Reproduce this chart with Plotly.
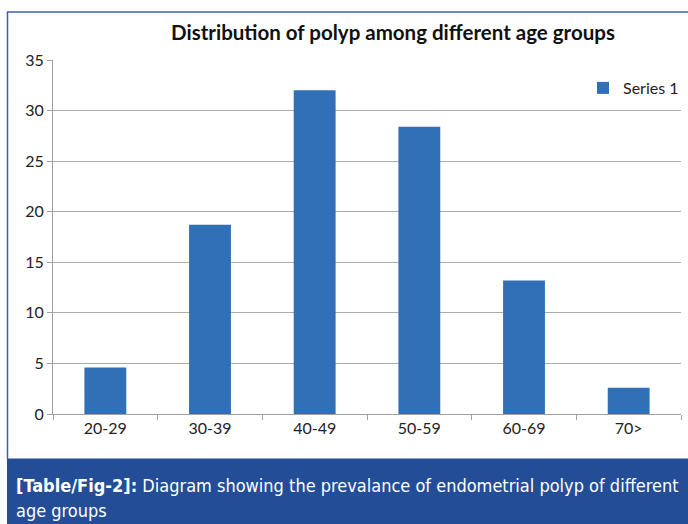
import plotly.graph_objects as go

categories = ["20-29", "30-39", "40-49", "50-59", "60-69", "70>"]
values = [4.6, 18.7, 32.0, 28.4, 13.2, 2.6]
series_name = "Series 1"
y_ticks = [0, 5, 10, 15, 20, 25, 30, 35]
title_text = "Distribution of polyp among different age groups"
caption_line1 = "<b>[Table/Fig-2]:</b> Diagram showing the prevalance of endometrial polyp of different"
caption_line2 = "age groups"

W, H = 688, 524
L, R, T, B = 53, 7, 60, 110
pw = W - L - R
ph = H - T - B

def px(x):
    return (x - L) / pw

def py(y):
    return (H - B - y) / ph

fig = go.Figure()
fig.add_trace(go.Bar(
    x=categories, y=values, name=series_name,
    marker=dict(color="#3170b6", line=dict(width=0)),
    showlegend=True,
))

fig.update_layout(
    width=W, height=H,
    margin=dict(l=L, r=R, t=T, b=B, autoexpand=False),
    paper_bgcolor="white", plot_bgcolor="white",
    bargap=0.6,
    font=dict(family="Lato, Open Sans, sans-serif", size=16, color="#222"),
    title=dict(text="<b>" + title_text + "</b>", x=px(393), xanchor="center",
               y=1 - 33 / H, yanchor="middle", yref="container", xref="paper",
               font=dict(family="Lato, Open Sans, sans-serif", size=20.5, color="#111")),
    showlegend=True,
    legend=dict(x=px(583), y=py(88), xanchor="left", yanchor="middle",
                font=dict(size=16, color="#222"), bgcolor="rgba(0,0,0,0)",
                itemwidth=30),
    xaxis=dict(showline=True, linecolor="#a0a0a0", linewidth=1,
               ticks="outside", tickson="boundaries", ticklen=5, tickcolor="#a0a0a0",
               showgrid=False, tickfont=dict(size=16, color="#222")),
    yaxis=dict(range=[0, 35], tickvals=y_ticks, showline=True, linecolor="#a0a0a0",
               linewidth=1, ticks="outside", ticklen=5, tickcolor="#a0a0a0",
               showgrid=True, gridcolor="#acacac", gridwidth=1, zeroline=False,
               tickfont=dict(size=16, color="#222")),
)

shapes = [
    # caption band
    dict(type="rect", xref="paper", yref="paper", x0=px(7), x1=px(700),
         y0=py(458.5), y1=py(530), fillcolor="#244d97", line=dict(width=0), layer="above"),
    # frame
    dict(type="line", xref="paper", yref="paper", x0=px(7.5), x1=px(7.5),
         y0=py(11.5), y1=py(459), line=dict(color="#3a5fb0", width=1.5)),
    dict(type="line", xref="paper", yref="paper", x0=px(7.5), x1=px(700),
         y0=py(12), y1=py(12), line=dict(color="#3a5fb0", width=1.5)),
]
fig.update_layout(shapes=shapes)

cap_font = dict(family="Liberation Sans Narrow, Arial Narrow, DejaVu Sans Condensed, sans-serif",
                size=18, color="white")
fig.add_annotation(text=caption_line1, xref="paper", yref="paper", x=px(14), y=py(485),
                   xanchor="left", yanchor="middle", showarrow=False, font=cap_font)
fig.add_annotation(text=caption_line2, xref="paper", yref="paper", x=px(14), y=py(510),
                   xanchor="left", yanchor="middle", showarrow=False, font=cap_font)

fig.write_html("out.html", config={"displayModeBar": False},
               post_script="document.body.style.margin='0';document.body.style.overflow='hidden';")
